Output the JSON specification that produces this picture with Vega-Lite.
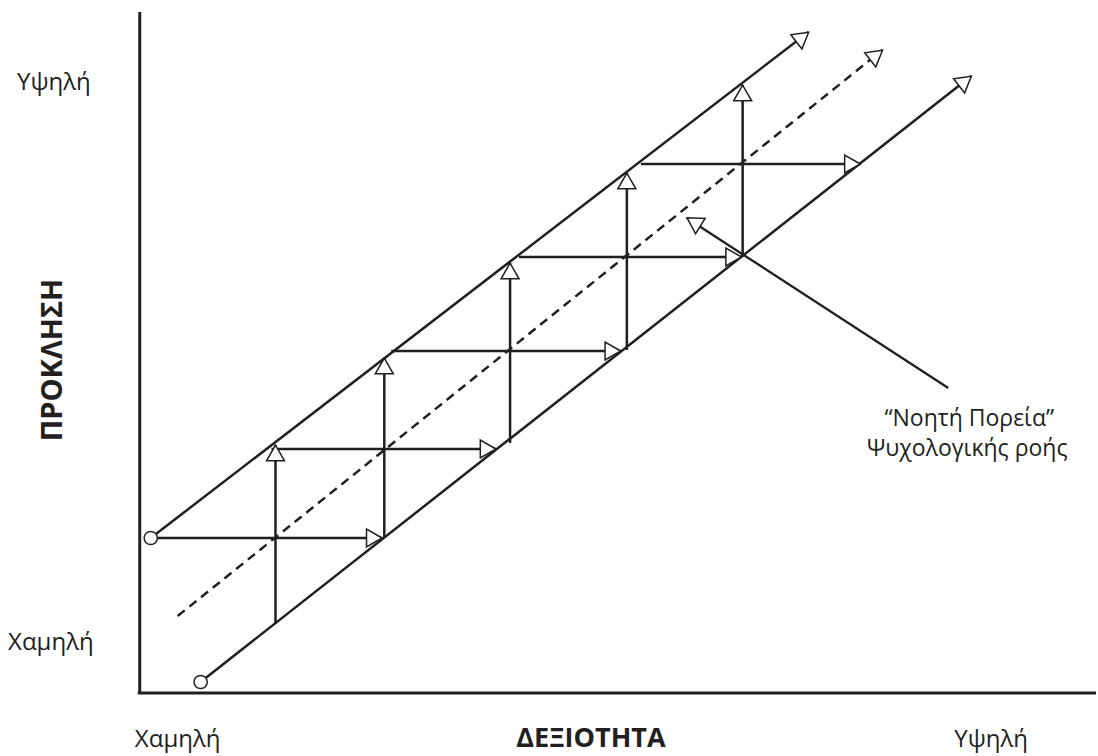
{
  "$schema": "https://vega.github.io/schema/vega-lite/v6.json",
  "width": 1098,
  "height": 756,
  "autosize": {"type": "fit", "contains": "padding"},
  "padding": 0,
  "background": "white",
  "config": {"view": {"stroke": null}},
  "datasets": {
    "segs": [
      {"kind": "solid", "x": 151, "y": 538, "x2": 810, "y2": 32},
      {"kind": "solid", "x": 201, "y": 682, "x2": 973, "y2": 76},
      {"kind": "dash", "x": 178, "y": 616, "x2": 884, "y2": 50},
      {"kind": "solid", "x": 151, "y": 538, "x2": 383, "y2": 538},
      {"kind": "solid", "x": 276, "y": 624, "x2": 276, "y2": 445},
      {"kind": "solid", "x": 272, "y": 449, "x2": 497, "y2": 449},
      {"kind": "solid", "x": 385, "y": 538, "x2": 385, "y2": 358},
      {"kind": "solid", "x": 392, "y": 351, "x2": 622, "y2": 351},
      {"kind": "solid", "x": 511, "y": 443, "x2": 511, "y2": 263},
      {"kind": "solid", "x": 520, "y": 257, "x2": 743, "y2": 257},
      {"kind": "solid", "x": 628, "y": 350, "x2": 628, "y2": 173},
      {"kind": "solid", "x": 642, "y": 164, "x2": 862, "y2": 164},
      {"kind": "solid", "x": 744, "y": 257, "x2": 744, "y2": 85},
      {"kind": "annot", "x": 950, "y": 388, "x2": 688, "y2": 218},
      {"kind": "axis", "x": 140, "y": 12, "x2": 140, "y2": 694},
      {"kind": "axis", "x": 138, "y": 693, "x2": 1098, "y2": 693}
    ],
    "heads": [
      {"dir": "up", "x": 276, "y": 453},
      {"dir": "up", "x": 385, "y": 366},
      {"dir": "up", "x": 511, "y": 271},
      {"dir": "up", "x": 628, "y": 181},
      {"dir": "up", "x": 744, "y": 93},
      {"dir": "right", "x": 375, "y": 538},
      {"dir": "right", "x": 489, "y": 449},
      {"dir": "right", "x": 614, "y": 351},
      {"dir": "right", "x": 735, "y": 257},
      {"dir": "right", "x": 854, "y": 164},
      {"dir": "diag", "x": 804, "y": 37},
      {"dir": "diag", "x": 878, "y": 55},
      {"dir": "diag", "x": 967, "y": 81},
      {"dir": "annot", "x": 695, "y": 222}
    ],
    "starts": [
      {"x": 151, "y": 538},
      {"x": 201, "y": 682}
    ],
    "labels": [
      {"kind": "tick", "text": "Υψηλή", "x": 54, "y": 90},
      {"kind": "tick", "text": "Χαμηλή", "x": 51, "y": 650},
      {"kind": "tick", "text": "Χαμηλή", "x": 178, "y": 747},
      {"kind": "tick", "text": "Υψηλή", "x": 993, "y": 747},
      {"kind": "note", "text": "“Νοητή Πορεία”", "x": 971, "y": 426},
      {"kind": "note", "text": "Ψυχολογικής ροής", "x": 969, "y": 456},
      {"kind": "xtitle", "text": "ΔΕΞΙΟΤΗΤΑ", "x": 592, "y": 747},
      {"kind": "ytitle", "text": "ΠΡΟΚΛΗΣΗ", "x": 62, "y": 360}
    ]
  },
  "encoding": {
    "x": {"field": "x", "type": "quantitative", "scale": {"domain": [0, 1098], "nice": false, "zero": false}, "axis": null},
    "y": {"field": "y", "type": "quantitative", "scale": {"domain": [756, 0], "nice": false, "zero": false}, "axis": null}
  },
  "layer": [
    {
      "data": {"name": "segs"},
      "transform": [{"filter": "datum.kind === 'solid'"}],
      "mark": {"type": "rule", "color": "#231f20", "strokeWidth": 2.5},
      "encoding": {"x2": {"field": "x2"}, "y2": {"field": "y2"}}
    },
    {
      "data": {"name": "segs"},
      "transform": [{"filter": "datum.kind === 'dash'"}],
      "mark": {"type": "rule", "color": "#231f20", "strokeWidth": 2.5, "strokeDash": [9, 6]},
      "encoding": {"x2": {"field": "x2"}, "y2": {"field": "y2"}}
    },
    {
      "data": {"name": "segs"},
      "transform": [{"filter": "datum.kind === 'annot'"}],
      "mark": {"type": "rule", "color": "#231f20", "strokeWidth": 2.3},
      "encoding": {"x2": {"field": "x2"}, "y2": {"field": "y2"}}
    },
    {
      "data": {"name": "segs"},
      "transform": [{"filter": "datum.kind === 'axis'"}],
      "mark": {"type": "rule", "color": "#231f20", "strokeWidth": 3},
      "encoding": {"x2": {"field": "x2"}, "y2": {"field": "y2"}}
    },
    {
      "data": {"name": "heads"},
      "transform": [{"filter": "datum.dir === 'up'"}],
      "mark": {"type": "point", "shape": "triangle-up", "filled": true, "fill": "white", "stroke": "#231f20", "strokeWidth": 1.5, "size": 324, "opacity": 1, "angle": 0}
    },
    {
      "data": {"name": "heads"},
      "transform": [{"filter": "datum.dir === 'right'"}],
      "mark": {"type": "point", "shape": "triangle-up", "filled": true, "fill": "white", "stroke": "#231f20", "strokeWidth": 1.5, "size": 324, "opacity": 1, "angle": 90}
    },
    {
      "data": {"name": "heads"},
      "transform": [{"filter": "datum.dir === 'diag'"}],
      "mark": {"type": "point", "shape": "triangle-up", "filled": true, "fill": "white", "stroke": "#231f20", "strokeWidth": 1.5, "size": 324, "opacity": 1, "angle": 52}
    },
    {
      "data": {"name": "heads"},
      "transform": [{"filter": "datum.dir === 'annot'"}],
      "mark": {"type": "point", "shape": "triangle-up", "filled": true, "fill": "white", "stroke": "#231f20", "strokeWidth": 1.5, "size": 324, "opacity": 1, "angle": 302}
    },
    {
      "data": {"name": "starts"},
      "mark": {"type": "point", "shape": "circle", "filled": true, "fill": "white", "stroke": "#231f20", "strokeWidth": 1.5, "size": 175, "opacity": 1}
    },
    {
      "data": {"name": "labels"},
      "transform": [{"filter": "datum.kind === 'tick'"}],
      "mark": {"type": "text", "font": "Open Sans", "fontSize": 24, "color": "#231f20", "align": "center", "baseline": "alphabetic"},
      "encoding": {"text": {"field": "text"}}
    },
    {
      "data": {"name": "labels"},
      "transform": [{"filter": "datum.kind === 'note'"}],
      "mark": {"type": "text", "font": "Open Sans", "fontSize": 23, "color": "#231f20", "align": "center", "baseline": "alphabetic"},
      "encoding": {"text": {"field": "text"}}
    },
    {
      "data": {"name": "labels"},
      "transform": [{"filter": "datum.kind === 'xtitle'"}],
      "mark": {"type": "text", "font": "Open Sans", "fontSize": 27, "fontWeight": "bold", "color": "#231f20", "align": "center", "baseline": "alphabetic"},
      "encoding": {"text": {"field": "text"}}
    },
    {
      "data": {"name": "labels"},
      "transform": [{"filter": "datum.kind === 'ytitle'"}],
      "mark": {"type": "text", "font": "Open Sans", "fontSize": 29, "fontWeight": "bold", "color": "#231f20", "align": "center", "baseline": "alphabetic", "angle": 270},
      "encoding": {"text": {"field": "text"}}
    }
  ]
}
